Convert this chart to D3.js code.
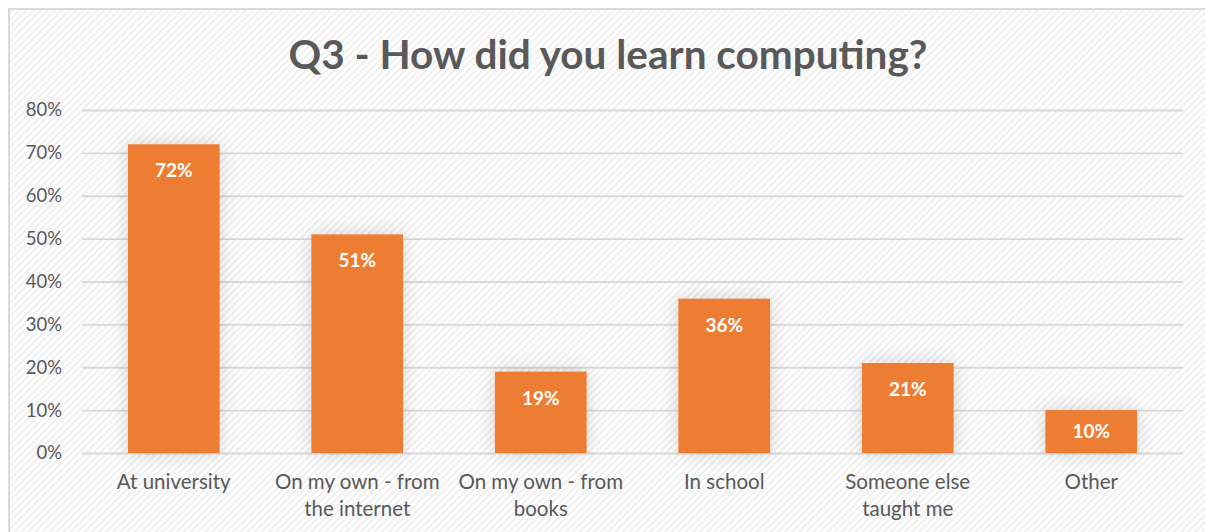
<!DOCTYPE html>
<html>
<head>
<meta charset="utf-8">
<script src="https://cdn.jsdelivr.net/npm/d3@7"></script>
<style>
  html, body { margin: 0; padding: 0; background: #ffffff; }
  svg { display: block; }
</style>
</head>
<body>
<svg id="chart" width="1205" height="532"></svg>
<script>
// Survey responses: share of respondents per learning route
const categories = [
  ["At university"],
  ["On my own - from", "the internet"],
  ["On my own - from", "books"],
  ["In school"],
  ["Someone else", "taught me"],
  ["Other"]
];
const values = [72, 51, 19, 36, 21, 10];
const yTicks = [0, 10, 20, 30, 40, 50, 60, 70, 80];
const titleText = "Q3 - How did you learn computing?";

const W = 1205, H = 532;
const margin = { left: 82, right: 22, top: 110, bottom: 79 };
const svg = d3.select("#chart");
const defs = svg.append("defs");

// light diagonal hatching for the chart background
const pat = defs.append("pattern")
  .attr("id", "hatch")
  .attr("patternUnits", "userSpaceOnUse")
  .attr("width", 5).attr("height", 5)
  .attr("patternTransform", "rotate(45)");
pat.append("rect").attr("width", 5).attr("height", 5).attr("fill", "#ffffff");
pat.append("rect").attr("width", 2.2).attr("height", 5).attr("fill", "#f0f0f0");

// soft shadow around the bars
const f = defs.append("filter").attr("id", "glow")
  .attr("x", "-40%").attr("y", "-40%").attr("width", "180%").attr("height", "180%");
f.append("feGaussianBlur").attr("in", "SourceAlpha").attr("stdDeviation", 9).attr("result", "b");
f.append("feFlood").attr("flood-color", "#000").attr("flood-opacity", 0.16);
f.append("feComposite").attr("in2", "b").attr("operator", "in").attr("result", "s");
const fm = f.append("feMerge");
fm.append("feMergeNode").attr("in", "s");
fm.append("feMergeNode").attr("in", "SourceGraphic");

// chart area with border
svg.append("rect")
  .attr("x", 9).attr("y", 9)
  .attr("width", W + 10).attr("height", H + 10)
  .attr("fill", "url(#hatch)")
  .attr("stroke", "#d9d9d9").attr("stroke-width", 2);

const x = d3.scaleBand()
  .domain(d3.range(categories.length))
  .range([margin.left, W - margin.right])
  .paddingInner(0.5).paddingOuter(0.25);

const y = d3.scaleLinear()
  .domain([0, 80])
  .range([H - margin.bottom, margin.top]);

// title
svg.append("text")
  .attr("x", 608).attr("y", 69)
  .attr("text-anchor", "middle")
  .attr("font-family", "Lato, 'Open Sans', sans-serif")
  .attr("font-weight", 700)
  .attr("font-size", 40.5)
  .attr("fill", "#595959")
  .text(titleText);

// gridlines + y axis
const yAxis = d3.axisLeft(y)
  .tickValues(yTicks)
  .tickSize(-(W - margin.left - margin.right))
  .tickPadding(20)
  .tickFormat(d => d + "%");
const gy = svg.append("g")
  .attr("transform", `translate(${margin.left},0)`)
  .call(yAxis);
gy.select(".domain").remove();
gy.selectAll(".tick line").attr("stroke", "#d9d9d9").attr("stroke-width", 1.8);
gy.selectAll(".tick text")
  .attr("fill", "#595959")
  .attr("font-family", "Lato, 'Open Sans', sans-serif")
  .attr("font-size", 18.5);

// bars
svg.append("g").selectAll("rect")
  .data(values)
  .join("rect")
  .attr("x", (d, i) => x(i))
  .attr("y", d => y(d))
  .attr("width", x.bandwidth())
  .attr("height", d => y(0) - y(d))
  .attr("fill", "#ed7d31")
  .attr("filter", "url(#glow)");

// value labels inside the bar tops (centred when the bar is short)
svg.append("g").selectAll("text")
  .data(values)
  .join("text")
  .attr("x", (d, i) => x(i) + x.bandwidth() / 2)
  .attr("y", d => Math.min(y(d) + 33, (y(d) + y(0)) / 2 + 6.5))
  .attr("text-anchor", "middle")
  .attr("font-family", "Lato, 'Open Sans', sans-serif")
  .attr("font-weight", 700)
  .attr("font-size", 19)
  .attr("fill", "#ffffff")
  .text(d => d + "%");

// category labels (two lines where wrapped)
const xAxis = d3.axisBottom(x).tickSize(0).tickFormat("");
const gx = svg.append("g")
  .attr("transform", `translate(0,${y(0)})`)
  .call(xAxis);
gx.select(".domain").remove();
gx.selectAll(".tick").each(function(i) {
  const t = d3.select(this).append("text")
    .attr("text-anchor", "middle")
    .attr("fill", "#595959")
    .attr("font-family", "Lato, 'Open Sans', sans-serif")
    .attr("font-size", 20.5);
  categories[i].forEach((line, k) => {
    t.append("tspan").attr("x", 0).attr("y", 36 + k * 27).text(line);
  });
});
</script>
</body>
</html>
